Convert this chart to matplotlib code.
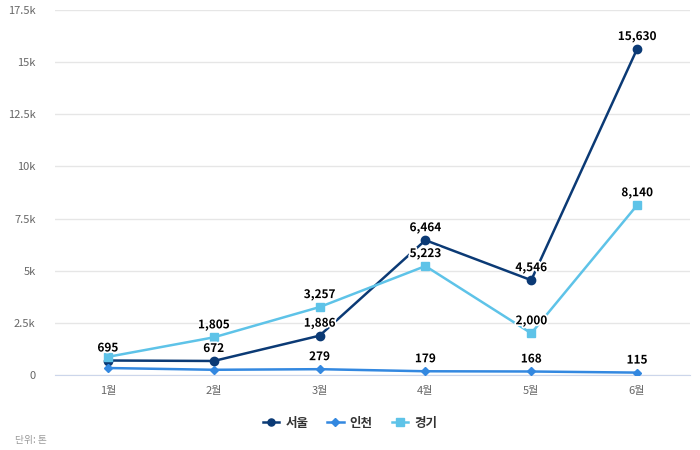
import matplotlib.pyplot as plt
import matplotlib.patheffects as pe
from matplotlib.ticker import FuncFormatter

plt.rcParams['font.family'] = ['Noto Sans CJK KR', 'DejaVu Sans']

months = ['1월', '2월', '3월', '4월', '5월', '6월']
seoul = [695, 672, 1886, 6464, 4546, 15630]
incheon = [335, 250, 279, 179, 168, 115]
gyeonggi = [870, 1805, 3257, 5223, 2000, 8140]

# which data labels survive the overlap check in the original
seoul_show = [True, True, True, True, True, True]
incheon_show = [False, False, True, True, True, True]
gyeonggi_show = [False, True, True, True, True, True]

fig = plt.figure(figsize=(7, 4.5), dpi=100)
ax = fig.add_axes([55/700, 1 - 375/450, 635/700, 365/450])

x = list(range(len(months)))
series = [
    ('서울', seoul, seoul_show, '#0b3a75', 'o', 6),
    ('인천', incheon, incheon_show, '#3388e0', 'D', 4.5),
    ('경기', gyeonggi, gyeonggi_show, '#5ec3e8', 's', 6),
]

outline = [pe.withStroke(linewidth=2.5, foreground='white')]
for i, (name, vals, show, col, mk, ms) in enumerate(series):
    ax.plot(x, vals, color=col, lw=1.8, marker=mk, ms=ms, label=name, zorder=3 + i)
    for xi, v, s in zip(x, vals, show):
        if s:
            ax.annotate(f'{v:,}', (xi, v), xytext=(0, 9), textcoords='offset points',
                        ha='center', va='center', fontsize=8.5, fontweight='bold',
                        color='black', path_effects=outline, zorder=10)

ax.set_xlim(-0.5, 5.5)
ax.set_ylim(0, 17500)
ax.set_yticks(range(0, 17501, 2500))
ax.yaxis.set_major_formatter(FuncFormatter(lambda v, p: '0' if v == 0 else f'{v/1000:g}k'))
ax.set_xticks(x)
ax.set_xticklabels(months)
ax.grid(axis='y', color='#e6e6e6', lw=1)
ax.set_axisbelow(True)
for s in ['top', 'right', 'left']:
    ax.spines[s].set_visible(False)
ax.spines['bottom'].set_color('#ccd6eb')
ax.tick_params(axis='y', length=0, labelsize=8, labelcolor='#666666', pad=14)
ax.tick_params(axis='x', length=0, labelsize=8, labelcolor='#666666', pad=8)

leg = fig.legend(loc='center', bbox_to_anchor=(0.5, 1 - 423/450), ncol=3, frameon=False,
                 prop={'size': 9, 'weight': 'bold'}, handlelength=1.3, columnspacing=1.5,
                 handletextpad=0.5, markerscale=0.85)
for t in leg.get_texts():
    t.set_color('#333333')

fig.text(15/700, 1 - 440/450, '단위: 톤', fontsize=7, color='#999999', va='center')

fig.savefig('out.png', dpi=100)
